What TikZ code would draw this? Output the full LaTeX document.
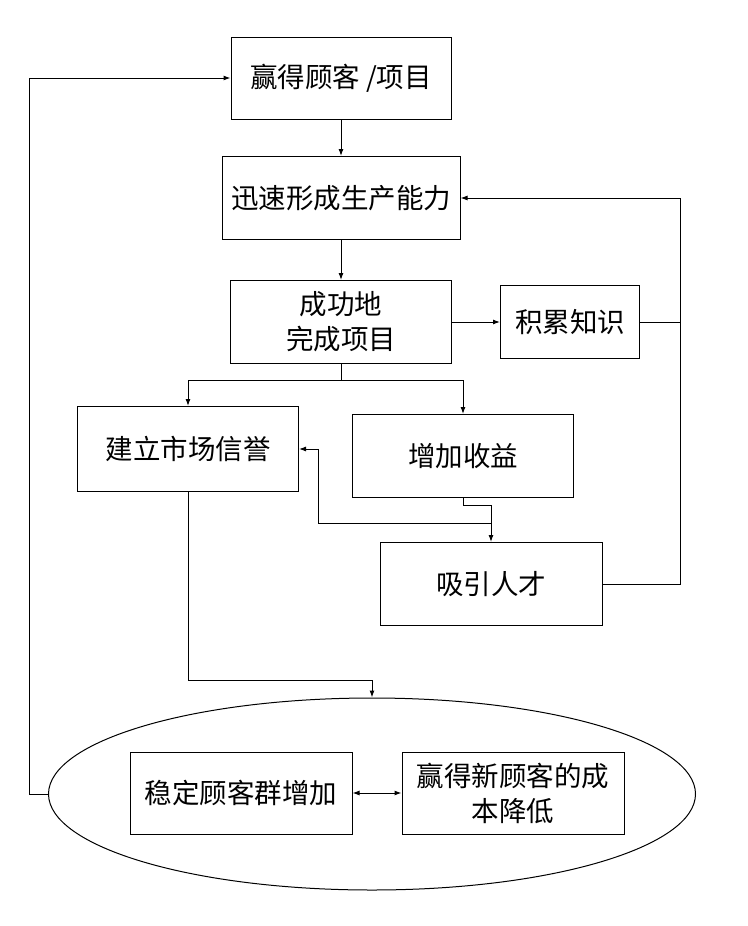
\documentclass[tikz,border=0pt]{standalone}
\usepackage{fontspec}
\setmainfont{Noto Sans CJK SC}
\usetikzlibrary{arrows.meta,shapes.geometric}

\begin{document}
\begin{tikzpicture}
  [x=1pt,y=-1pt,line width=1pt,>={Latex[length=7pt,width=5pt]},
   every node/.style={draw,inner sep=0pt,align=center,font=\fontsize{27.5}{35}\selectfont}]
  \useasboundingbox (0,0) rectangle (747,926);
  \node[minimum width=220,minimum height=82] (a) at (341,78) {赢得顾客 /项目};
  \node[minimum width=238,minimum height=83] (b) at (341,198) {迅速形成生产能力};
  \node[minimum width=221,minimum height=83] (c) at (341,322) {成功地\\完成项目};
  \node[minimum width=139,minimum height=73] (d) at (570,322) {积累知识};
  \node[minimum width=221,minimum height=85] (e) at (188,449) {建立市场信誉};
  \node[minimum width=221,minimum height=83] (f) at (463,456) {增加收益};
  \node[minimum width=222,minimum height=83] (g) at (491,584) {吸引人才};
  \node[ellipse,minimum width=647,minimum height=192] (o) at (372,794) {};
  \node[minimum width=222,minimum height=82] (h) at (241,793) {稳定顾客群增加};
  \node[minimum width=222,minimum height=82] (i) at (513,793) {赢得新顾客的成\\本降低};
  \coordinate (m) at (341,380);
  \coordinate (p) at (491,523);
  \coordinate (k) at (318,523);
  \coordinate (r) at (680,584);
  \coordinate (l) at (29,794);
  \foreach \from/\to in {a/b,b/c,c/d}
    \draw[->] (\from) -- (\to);
  \draw (c.south) -- (m);
  \draw[->] (m) -| (e.north);
  \draw[->] (m) -| (f.north);
  \draw[->] (f.south) -- ++(0,7) -| (g.north);
  \draw[->] (p) -- (k) |- (e.east);
  \draw[->] (g.east) -- (r) |- (b.east);
  \draw (d.east) -- (d.east -| r);
  \draw[->] (e.south) -- ++(0,188) -| (o.north);
  \draw[->] (o.west) -- (l) |- (a.west);
  \draw[<->] (h) -- (i);
\end{tikzpicture}
\end{document}
